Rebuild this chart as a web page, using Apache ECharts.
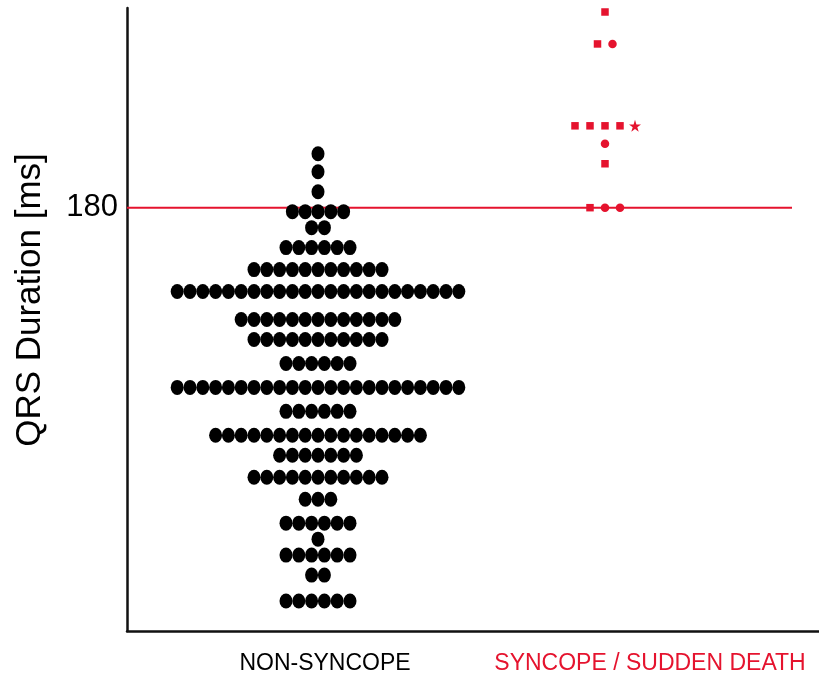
<!DOCTYPE html>
<html>
<head>
<meta charset="utf-8">
<script src="https://cdn.jsdelivr.net/npm/echarts@6/dist/echarts.min.js"></script>
<style>html,body{margin:0;padding:0;background:#fff}#c{width:819px;height:675px}</style>
</head>
<body>
<div id="c"></div>
<script>
// ---- data ----
const yAxisTitle = 'QRS Duration [ms]';
const groupLabels = ['NON-SYNCOPE', 'SYNCOPE / SUDDEN DEATH'];
const threshold = 180;
const yTickLabels = [180];
// non-syncope: QRS value of each row and number of patients in that row
const nonSyncopeValues = [193.5, 189, 184, 179, 175, 170, 164.5, 159, 152, 147, 141, 135, 129, 123, 118, 112.5, 107, 101, 97, 93, 88, 81.5];
const nonSyncopeCounts = [1, 1, 1, 5, 2, 6, 11, 23, 13, 11, 6, 23, 6, 17, 7, 11, 3, 6, 1, 6, 2, 6];
// syncope / sudden death: one entry per patient
const syncopeValues  = [229, 221, 221, 200.5, 200.5, 200.5, 200.5, 200.5, 196, 191, 180, 180, 180];
const syncopeSymbols = ['rect', 'rect', 'circle', 'rect', 'rect', 'rect', 'rect', 'star', 'circle', 'rect', 'rect', 'circle', 'circle'];

// ---- layout ----
const RED = '#e5132e';
const STAR = 'path://M50,0 L61.2,34.5 L97.6,34.5 L68.2,55.9 L79.4,90.5 L50,69.1 L20.6,90.5 L31.8,55.9 L2.4,34.5 L38.8,34.5 Z';
const groupCenters = [191, 478];      // x-axis units (= px inside grid)
const labelCenters = [198, 523];
const spacing = [12.8, 15];
const xMax = 692;
const lineEnd = 665;

const blackData = [];
nonSyncopeValues.forEach((v, r) => {
  const n = nonSyncopeCounts[r];
  for (let i = 0; i < n; i++) blackData.push([groupCenters[0] + (i - (n - 1) / 2) * spacing[0], v]);
});
const redData = [];
let i = 0;
while (i < syncopeValues.length) {
  let j = i;
  while (j < syncopeValues.length && syncopeValues[j] === syncopeValues[i]) j++;
  const n = j - i;
  for (let k = i; k < j; k++) {
    const sym = syncopeSymbols[k];
    redData.push({
      value: [groupCenters[1] + (k - i - (n - 1) / 2) * spacing[1], syncopeValues[k]],
      symbol: sym === 'star' ? STAR : sym,
      symbolSize: sym === 'rect' ? 7.5 : sym === 'star' ? 12 : 8.5
    });
  }
  i = j;
}

const chart = echarts.init(document.getElementById('c'), null, {renderer: 'canvas'});
chart.setOption({
  animation: false,
  backgroundColor: '#fff',
  grid: {left: 127, right: 0, top: 8, bottom: 44},
  xAxis: {
    type: 'value', min: 0, max: xMax,
    splitLine: {show: false},
    axisLine: {show: true, lineStyle: {color: '#111', width: 2.5}},
    axisTick: {show: false},
    axisLabel: {
      customValues: labelCenters,
      margin: 21,
      formatter: v => Math.abs(v - labelCenters[0]) < 1 ? '{a|' + groupLabels[0] + '}' : '{b|' + groupLabels[1] + '}',
      rich: {
        a: {fontFamily: 'Liberation Sans, Arial', fontSize: 23, color: '#000'},
        b: {fontFamily: 'Liberation Sans, Arial', fontSize: 23, color: RED}
      }
    }
  },
  yAxis: {
    type: 'value', min: 74, max: 230,
    splitLine: {show: false},
    axisLine: {show: true, lineStyle: {color: '#111', width: 2.5}},
    axisTick: {show: false},
    axisLabel: {customValues: yTickLabels, margin: 9, fontFamily: 'Liberation Sans, Arial', fontSize: 31, color: '#000'}
  },
  graphic: [{
    type: 'text', x: 30, y: 300, rotation: Math.PI / 2,
    style: {text: yAxisTitle, fontFamily: 'Liberation Sans, Arial', fontSize: 35, fill: '#000', align: 'center', verticalAlign: 'middle'}
  }],
  series: [
    {
      type: 'line', data: [[0, threshold], [lineEnd, threshold]], symbol: 'none', z: 1,
      lineStyle: {color: RED, width: 2}, silent: true
    },
    {
      type: 'scatter', data: blackData, symbol: 'circle', symbolSize: [13, 15], z: 3,
      itemStyle: {color: '#000', opacity: 1}
    },
    {
      type: 'scatter', data: redData, z: 4,
      itemStyle: {color: RED, opacity: 1}
    }
  ]
});
</script>
</body>
</html>
